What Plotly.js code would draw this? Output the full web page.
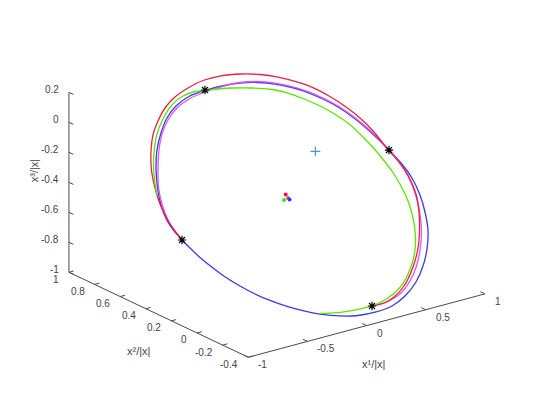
<!DOCTYPE html>
<html>
<head>
<meta charset="utf-8">
<script src="https://cdn.plot.ly/plotly-3.0.1.min.js"></script>
<style>
  html, body { margin: 0; padding: 0; background: #fff; }
  #plot { width: 534px; height: 401px; }
</style>
</head>
<body>
<div id="plot"></div>
<script>
// normalised trajectories x/|x| (x1, x2, x3)
var blueX1 = [-0.0102, 0.1176, 0.2452, 0.3619, 0.4635, 0.5562, 0.6362, 0.7031, 0.7636, 0.8111, 0.8479, 0.8761, 0.9000, 0.9195, 0.9239, 0.9005, 0.8579, 0.7984, 0.7089, 0.6092, 0.4947, 0.3636, 0.2372, 0.1092, -0.0205, -0.1373, -0.2452, -0.3444, -0.4328, -0.5147, -0.5859, -0.6421, -0.6940, -0.7351, -0.7719, -0.7920, -0.8099, -0.8214, -0.8200, -0.7905, -0.7384, -0.6605, -0.5755, -0.4758, -0.3720, -0.2623, -0.1382, -0.0102];
var blueX2 = [0.8522, 0.8375, 0.8147, 0.7820, 0.7431, 0.6962, 0.6450, 0.5897, 0.5285, 0.4631, 0.3955, 0.3280, 0.2563, 0.1806, 0.0988, 0.0147, -0.0636, -0.1421, -0.2168, -0.2777, -0.3287, -0.3640, -0.3792, -0.3725, -0.3520, -0.3191, -0.2782, -0.2294, -0.1783, -0.1212, -0.0621, -0.0048, 0.0567, 0.1202, 0.1877, 0.2394, 0.2931, 0.3449, 0.4008, 0.4750, 0.5504, 0.6339, 0.7048, 0.7656, 0.8146, 0.8457, 0.8589, 0.8522];
var blueX3 = [0.0628, 0.0717, 0.0739, 0.0658, 0.0500, 0.0262, -0.0034, -0.0386, -0.0799, -0.1266, -0.1772, -0.2291, -0.2853, -0.3454, -0.4131, -0.4876, -0.5602, -0.6359, -0.7133, -0.7810, -0.8427, -0.8941, -0.9279, -0.9435, -0.9479, -0.9397, -0.9234, -0.8990, -0.8709, -0.8367, -0.7990, -0.7603, -0.7175, -0.6711, -0.6207, -0.5807, -0.5387, -0.4972, -0.4501, -0.3830, -0.3112, -0.2282, -0.1548, -0.0872, -0.0289, 0.0153, 0.0470, 0.0628];

var redX1 = [-0.8099, -0.8171, -0.8136, -0.7925, -0.7543, -0.6980, -0.6224, -0.5354, -0.4424, -0.3410, -0.2294, -0.1073, 0.0208, 0.1486, 0.2910, 0.4095, 0.5131, 0.6080, 0.6898, 0.7586, 0.8145, 0.8555, 0.8832, 0.8959, 0.9111, 0.9091, 0.8794, 0.8197, 0.7444, 0.6561, 0.5413, 0.4009, 0.2892, 0.2080, 0.1100];
var redX2 = [0.2931, 0.3489, 0.4069, 0.4809, 0.5552, 0.6347, 0.7082, 0.7730, 0.8198, 0.8588, 0.8840, 0.8951, 0.8963, 0.8817, 0.8491, 0.8104, 0.7656, 0.7126, 0.6555, 0.5864, 0.5130, 0.4415, 0.3580, 0.2603, 0.1885, 0.1087, 0.0265, -0.0520, -0.1256, -0.1954, -0.2624, -0.3218, -0.3468, -0.3516, -0.3407];
var redX3 = [-0.5387, -0.4931, -0.4439, -0.3783, -0.3098, -0.2338, -0.1597, -0.0909, -0.0363, 0.0133, 0.0528, 0.0825, 0.1050, 0.1138, 0.1103, 0.0976, 0.0771, 0.0485, 0.0143, -0.0323, -0.0844, -0.1374, -0.2028, -0.2825, -0.3402, -0.4074, -0.4811, -0.5568, -0.6311, -0.7042, -0.7795, -0.8525, -0.8921, -0.9096, -0.9166];

var magX1 = [-0.8099, -0.8151, -0.8115, -0.7798, -0.7278, -0.6478, -0.5628, -0.4738, -0.3744, -0.2647, -0.1405, -0.0168, 0.1155, 0.2474, 0.3663, 0.4678, 0.5607, 0.6405, 0.7076, 0.7680, 0.8155, 0.8522, 0.8805, 0.9000, 0.9131, 0.9048, 0.8707, 0.8174, 0.7483, 0.6600, 0.5679, 0.4610, 0.3513, 0.2485, 0.1674, 0.1100];
var magX2 = [0.2931, 0.3430, 0.4009, 0.4771, 0.5525, 0.6301, 0.7009, 0.7597, 0.8046, 0.8357, 0.8488, 0.8461, 0.8354, 0.8168, 0.7860, 0.7471, 0.7001, 0.6490, 0.5938, 0.5325, 0.4671, 0.3996, 0.3320, 0.2563, 0.1825, 0.1047, 0.0185, -0.0620, -0.1376, -0.2074, -0.2651, -0.3131, -0.3441, -0.3531, -0.3501, -0.3407];
var magX3 = [-0.5387, -0.4978, -0.4487, -0.3794, -0.3077, -0.2294, -0.1560, -0.0918, -0.0378, 0.0065, 0.0383, 0.0566, 0.0696, 0.0760, 0.0699, 0.0542, 0.0302, 0.0007, -0.0345, -0.0758, -0.1226, -0.1731, -0.2250, -0.2853, -0.3448, -0.4115, -0.4894, -0.5656, -0.6404, -0.7135, -0.7773, -0.8352, -0.8795, -0.9041, -0.9150, -0.9166];

var greenX1 = [-0.7766, -0.7226, -0.6546, -0.5827, -0.5056, -0.4019, -0.2941, -0.1827, -0.0782, -0.0102, 0.0791, 0.1725, 0.2998, 0.4204, 0.5069, 0.5782, 0.6535, 0.7201, 0.7655, 0.7915, 0.8111, 0.8213, 0.8271, 0.8190, 0.7980, 0.7555, 0.6926, 0.6282, 0.5600, 0.4789, 0.3926, 0.3153, 0.2382, 0.1762, 0.1100, 0.0205, -0.0731, -0.1623, -0.2536];
var greenX2 = [0.5190, 0.5884, 0.6590, 0.7177, 0.7693, 0.8184, 0.8553, 0.8724, 0.8674, 0.8522, 0.8331, 0.8101, 0.7714, 0.7267, 0.6817, 0.6304, 0.5673, 0.4961, 0.4287, 0.3591, 0.2914, 0.2265, 0.1578, 0.0878, 0.0137, -0.0646, -0.1421, -0.1977, -0.2413, -0.2810, -0.3138, -0.3307, -0.3394, -0.3420, -0.3407, -0.3296, -0.3145, -0.2954, -0.2704];
var greenX3 = [-0.3438, -0.2767, -0.2063, -0.1452, -0.0890, -0.0309, 0.0181, 0.0509, 0.0643, 0.0628, 0.0616, 0.0578, 0.0466, 0.0292, 0.0058, -0.0252, -0.0657, -0.1142, -0.1632, -0.2172, -0.2705, -0.3232, -0.3799, -0.4399, -0.5055, -0.5782, -0.6534, -0.7107, -0.7587, -0.8055, -0.8472, -0.8741, -0.8943, -0.9068, -0.9166, -0.9222, -0.9252, -0.9240, -0.9183];

// marked points
var starX1 = [-0.0079, 0.9000, -0.8099, 0.1100];
var starX2 = [0.8542, 0.2563, 0.2931, -0.3407];
var starX3 = [0.0648, -0.2853, -0.5387, -0.9166];

var plusX1 = [0];
var plusX2 = [0];
var plusX3 = [0];

var dotX1 = [0.0137, 0.0485, 0.0479, 0.0509];
var dotX2 = [0.2574, 0.2764, 0.2578, 0.2488];
var dotX3 = [-0.4316, -0.4100, -0.4256, -0.4326];
var dotColors = ["#44e010", "#ee1133", "#cc44dd", "#3333ee"];

// axis limits and ticks
var x1Range = [-1, 1], x2Range = [-0.4, 1], x3Range = [-1, 0.2];
var x1Ticks = [-1, -0.5, 0, 0.5, 1];
var x1Labels = ["-1", "-0.5", "0", "0.5", "1"];
var x2Ticks = [-0.4, -0.2, 0, 0.2, 0.4, 0.6, 0.8, 1];
var x2Labels = ["-0.4", "-0.2", "0", "0.2", "0.4", "0.6", "0.8", "1"];
var x3Ticks = [-1, -0.8, -0.6, -0.4, -0.2, 0, 0.2];
var x3Labels = ["-1", "-0.8", "-0.6", "-0.4", "-0.2", "0", "0.2"];

// orthographic view (azimuth / elevation) and axis stretch, like the 3-D axes it comes from
var az = 36.94 * Math.PI / 180, el = 20.87 * Math.PI / 180;
var stretch = [148.0, 213.2, 160.5];
var ca = Math.cos(az), sa = Math.sin(az), ce = Math.cos(el), se = Math.sin(el);

function project(a, b, c) {
  var X = a * stretch[0], Y = b * stretch[1], Z = c * stretch[2];
  return [X * ca - Y * sa, Z * ce + se * (X * sa + Y * ca)];
}
function projectAll(a, b, c) {
  var px = [], py = [];
  for (var i = 0; i < a.length; i++) {
    if (a[i] === null) { px.push(null); py.push(null); continue; }
    var p = project(a[i], b[i], c[i]);
    px.push(p[0]); py.push(p[1]);
  }
  return {x: px, y: py};
}

function curve(a, b, c, color) {
  var p = projectAll(a, b, c);
  return {type: "scatter", mode: "lines", x: p.x, y: p.y,
          line: {color: color, width: 1.3, shape: "spline", smoothing: 0.7},
          hoverinfo: "skip", showlegend: false};
}

// three axis lines with their tick marks
var ax1 = [], ax2 = [], ax3 = [];
function seg(p, q) { ax1.push(p[0], q[0], null); ax2.push(p[1], q[1], null); ax3.push(p[2], q[2], null); }
seg([x1Range[0], x2Range[0], x3Range[0]], [x1Range[1], x2Range[0], x3Range[0]]);
seg([x1Range[0], x2Range[0], x3Range[0]], [x1Range[0], x2Range[1], x3Range[0]]);
seg([x1Range[0], x2Range[1], x3Range[0]], [x1Range[0], x2Range[1], x3Range[1]]);
x1Ticks.forEach(function (t) { seg([t, x2Range[0], x3Range[0]], [t, x2Range[0] + 0.035, x3Range[0]]); });
x2Ticks.forEach(function (t) { seg([x1Range[0], t, x3Range[0]], [x1Range[0] + 0.04, t, x3Range[0]]); });
x3Ticks.forEach(function (t) { seg([x1Range[0], x2Range[1], t], [x1Range[0], x2Range[1] - 0.035, t]); });
var axP = projectAll(ax1, ax2, ax3);

var starP = projectAll(starX1, starX2, starX3);
var plusP = projectAll(plusX1, plusX2, plusX3);
var dotP = projectAll(dotX1, dotX2, dotX3);

var traces = [
  {type: "scatter", mode: "lines", x: axP.x, y: axP.y,
   line: {color: "#4a4a4a", width: 1}, hoverinfo: "skip", showlegend: false},
  curve(blueX1, blueX2, blueX3, "#3a3ae8"),
  curve(magX1, magX2, magX3, "#dd55ee"),
  curve(redX1, redX2, redX3, "#e8203c"),
  curve(greenX1, greenX2, greenX3, "#5ce400"),
  {type: "scatter", mode: "markers", x: starP.x, y: starP.y,
   marker: {symbol: "asterisk-open", size: 7, color: "#000", line: {color: "#000", width: 1.2}},
   hoverinfo: "skip", showlegend: false},
  {type: "scatter", mode: "markers", x: plusP.x, y: plusP.y,
   marker: {symbol: "cross-thin-open", size: 7, color: "#4a98cc", line: {color: "#4a98cc", width: 1.2}},
   hoverinfo: "skip", showlegend: false},
  {type: "scatter", mode: "markers", x: dotP.x, y: dotP.y,
   marker: {symbol: "circle", size: 4, color: dotColors, line: {width: 0}},
   hoverinfo: "skip", showlegend: false}
];

var font = {family: "Liberation Sans, Arial, sans-serif", size: 10, color: "#444"};
var annotations = [];
function label(p3, text, xa, ya, dx, dy, extra) {
  var p = project(p3[0], p3[1], p3[2]);
  var a = {x: p[0], y: p[1], xref: "x", yref: "y", text: text, showarrow: false,
           xanchor: xa, yanchor: ya, xshift: dx, yshift: dy, font: font};
  for (var k in extra) a[k] = extra[k];
  annotations.push(a);
}
x1Ticks.forEach(function (t, i) { label([t, x2Range[0], x3Range[0]], x1Labels[i], "left", "middle", 8, -7.5); });
x2Ticks.forEach(function (t, i) { label([x1Range[0], t, x3Range[0]], x2Labels[i], "right", "middle", -8, -7); });
x3Ticks.forEach(function (t, i) { label([x1Range[0], x2Range[1], t], x3Labels[i], "right", "middle", -8, 3); });
var titleFont = {family: "Liberation Sans, Arial, sans-serif", size: 11, color: "#444"};
label([0, x2Range[0], x3Range[0]], "x¹/|x|", "center", "middle", 7, -38, {font: titleFont});
label([x1Range[0], 0.3, x3Range[0]], "x²/|x|", "center", "middle", -20, -36, {font: titleFont});
label([x1Range[0], x2Range[1], -0.4], "x³/|x|", "center", "middle", -35, 12, {font: titleFont, textangle: -90});

var W = 534, H = 401, originPx = [315.36, 151.32];
var layout = {
  width: W, height: H,
  margin: {l: 0, r: 0, t: 0, b: 0},
  paper_bgcolor: "#fff", plot_bgcolor: "#fff",
  showlegend: false,
  xaxis: {range: [-originPx[0], W - originPx[0]], visible: false, fixedrange: true},
  yaxis: {range: [originPx[1] - H, originPx[1]], visible: false, fixedrange: true},
  annotations: annotations
};

Plotly.newPlot("plot", traces, layout, {displayModeBar: false, staticPlot: true});
</script>
</body>
</html>
